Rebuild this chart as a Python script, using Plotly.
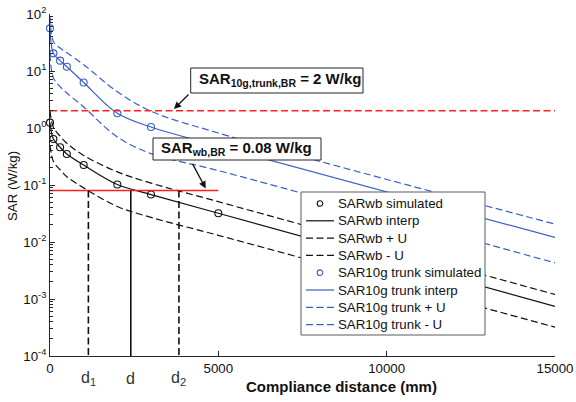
import plotly.graph_objects as go

# ---- data -------------------------------------------------------------
dist_sim = [0, 100, 300, 500, 1000, 2000, 3000, 5000]               # mm
wb_sim = [1.24, 0.64, 0.46, 0.35, 0.224, 0.102, 0.068, 0.032]        # W/kg
trunk_sim = [56, 20.4, 15.2, 11.9, 6.3, 1.81, 1.04, 0.48]            # W/kg

dist_curve = [0, 100, 300, 500, 1000, 2000, 3000, 5000, 15000]
wb_interp = [1.24, 0.64, 0.46, 0.35, 0.224, 0.102, 0.068, 0.032, 7.4e-4]
wb_plus = [2.0, 1.03, 0.72, 0.54, 0.33, 0.17, 0.108, 0.051, 0.0012]
wb_minus = [0.5, 0.26, 0.185, 0.14, 0.089, 0.042, 0.027, 0.0131, 3.2e-4]
trunk_interp = [56, 20.4, 15.2, 11.9, 6.3, 1.81, 1.04, 0.48, 0.012]
trunk_plus = [90, 33, 25.3, 20.9, 12.9, 4.33, 1.97, 0.817, 0.0206]
trunk_minus = [20, 7.6, 5.3, 4.1, 2.34, 0.695, 0.356, 0.179, 0.0043]

sar_wb_br = 0.08          # W/kg
sar_trunk_br = 2.0        # W/kg
wb_br_extent = 5000       # mm
d_names = ["d<sub>1</sub>", "d", "d<sub>2</sub>"]
d_values = [1140, 2400, 3830]   # mm
d_dashed = [True, False, True]

x_ticks = [0, 5000, 10000, 15000]
y_ticks = [1e-4, 1e-3, 1e-2, 1e-1, 1e0, 1e1, 1e2]
y_tick_text = ["10<sup>-4</sup>", "10<sup>-3</sup>", "10<sup>-2</sup>", "10<sup>-1</sup>",
               "10<sup>0</sup>", "10<sup>1</sup>", "10<sup>2</sup>"]
y_minor = [k * 10.0 ** e for e in range(-4, 2) for k in range(2, 10)]

legend_labels = ["SARwb simulated", "SARwb interp", "SARwb + U", "SARwb - U",
                 "SAR10g trunk simulated", "SAR10g trunk interp",
                 "SAR10g trunk + U", "SAR10g trunk - U"]

# ---- styling ------------------------------------------------------------
FONT = "Liberation Sans, Arial, Helvetica, sans-serif"
INK = "#262626"
BLACK = "#111111"
BLUE = "#3b5fc7"
RED = "#ff1f1f"
DASH = "7px,3.5px"

W, H = 576, 402
L, R, T, B = 50, 21, 14, 46
PW, PH = W - L - R, H - T - B


def fx(p):
    """pixel column -> paper x"""
    return (p - L) / PW


def fy(p):
    """pixel row (from top) -> paper y"""
    return (H - B - p) / PH


fig = go.Figure()

curves = [
    (wb_interp, BLACK, "solid"), (wb_plus, BLACK, DASH), (wb_minus, BLACK, DASH),
    (trunk_interp, BLUE, "solid"), (trunk_plus, BLUE, DASH), (trunk_minus, BLUE, DASH),
]
for vals, col, dash in curves:
    fig.add_trace(go.Scatter(
        x=dist_curve, y=vals, mode="lines", showlegend=False, hoverinfo="skip",
        line=dict(color=col, width=1.2, dash=dash, shape="spline", smoothing=1),
    ))

for vals, col in [(wb_sim, BLACK), (trunk_sim, BLUE)]:
    fig.add_trace(go.Scatter(
        x=dist_sim, y=vals, mode="markers", showlegend=False, cliponaxis=False,
        marker=dict(symbol="circle-open", size=7, color=col, line=dict(width=1.1, color=col)),
    ))

# basic restriction levels
fig.add_trace(go.Scatter(
    x=[0, x_ticks[-1]], y=[sar_trunk_br, sar_trunk_br], mode="lines", showlegend=False,
    line=dict(color=RED, width=1.5, dash=DASH), hoverinfo="skip",
))
fig.add_trace(go.Scatter(
    x=[0, wb_br_extent], y=[sar_wb_br, sar_wb_br], mode="lines", showlegend=False,
    line=dict(color=RED, width=1.5), hoverinfo="skip",
))

# compliance distances
for dv, dashed in zip(d_values, d_dashed):
    fig.add_trace(go.Scatter(
        x=[dv, dv], y=[sar_wb_br, y_ticks[0]], mode="lines", showlegend=False,
        line=dict(color=BLACK, width=1.6, dash=DASH if dashed else "solid"), hoverinfo="skip",
    ))

annotations = []
shapes = []

# labelled boxes with arrows
box_specs = [
    ((190.7, 68, 363, 93), "<b>SAR<sub>10g,trunk,BR</sub> = 2 W/kg</b>", 196.5, 79.5),
    ((153, 138, 321, 160), "<b>SAR<sub>wb,BR</sub> = 0.08 W/kg</b>", 159, 148.5),
]
for (x0, y0, x1, y1), txt, tx, ty in box_specs:
    shapes.append(dict(
        type="rect", xref="paper", yref="paper", layer="above",
        x0=fx(x0), x1=fx(x1), y0=fy(y1), y1=fy(y0),
        fillcolor="white", line=dict(color=INK, width=1),
    ))
    annotations.append(dict(
        xref="paper", yref="paper", x=fx(tx), y=fy(ty), xanchor="left", yanchor="middle",
        text=txt, showarrow=False, font=dict(family=FONT, size=15, color=BLACK),
    ))

annotations.append(dict(
    xref="x", yref="y", x=3683, y=0.333, text="", showarrow=True,
    axref="pixel", ayref="pixel", ax=16, ay=-16,
    arrowhead=2, arrowsize=1.1, arrowwidth=1.3, arrowcolor=BLACK,
))
annotations.append(dict(
    xref="x", yref="y", x=4625, y=-1.06, text="", showarrow=True,
    axref="pixel", ayref="pixel", ax=-14, ay=-26,
    arrowhead=2, arrowsize=1.1, arrowwidth=1.3, arrowcolor=BLACK,
))

# distance labels under the axis
for name, dv in zip(d_names, d_values):
    annotations.append(dict(
        xref="x", yref="paper", x=dv, y=fy(379), xanchor="center", yanchor="middle",
        text=name, showarrow=False, font=dict(family=FONT, size=16, color="#333333"),
    ))

# axis titles
annotations.append(dict(
    xref="paper", yref="paper", x=fx(341), y=fy(387), xanchor="center", yanchor="middle",
    text="<b>Compliance distance (mm)</b>", showarrow=False,
    font=dict(family=FONT, size=15, color=BLACK),
))
annotations.append(dict(
    xref="paper", yref="paper", x=fx(12), y=fy(186), xanchor="center", yanchor="middle",
    text="SAR (W/kg)", textangle=-90, showarrow=False,
    font=dict(family=FONT, size=13.3, color=BLACK),
))

# legend panel
lg_left, lg_top, lg_right, lg_bottom = 301, 192, 485, 335
shapes.append(dict(
    type="rect", xref="paper", yref="paper", layer="above",
    x0=fx(lg_left), x1=fx(lg_right), y0=fy(lg_bottom), y1=fy(lg_top),
    fillcolor="white", line=dict(color="#5a5a5a", width=1),
))
legend_styles = [
    ("marker", BLACK, None), ("line", BLACK, "solid"), ("line", BLACK, DASH), ("line", BLACK, DASH),
    ("marker", BLUE, None), ("line", BLUE, "solid"), ("line", BLUE, DASH), ("line", BLUE, DASH),
]
row0, row_step = 203.5, 17.3
for i, (label, (kind, col, dash)) in enumerate(zip(legend_labels, legend_styles)):
    yc = row0 + i * row_step
    if kind == "line":
        shapes.append(dict(
            type="line", xref="paper", yref="paper", layer="above",
            x0=fx(306), x1=fx(334), y0=fy(yc), y1=fy(yc),
            line=dict(color=col, width=1.2, dash=dash),
        ))
    else:
        shapes.append(dict(
            type="circle", xref="paper", yref="paper", layer="above",
            xsizemode="pixel", ysizemode="pixel", xanchor=fx(320), yanchor=fy(yc),
            x0=-2.8, x1=2.8, y0=-2.8, y1=2.8,
            line=dict(color=col, width=1.1), fillcolor="rgba(0,0,0,0)",
        ))
    annotations.append(dict(
        xref="paper", yref="paper", x=fx(336), y=fy(yc), xanchor="left", yanchor="middle",
        text=label, showarrow=False, font=dict(family=FONT, size=13.3, color=BLACK),
    ))

fig.update_layout(
    width=W, height=H,
    margin=dict(l=L, r=R, t=T, b=B, pad=0, autoexpand=False),
    paper_bgcolor="white", plot_bgcolor="white",
    font=dict(family=FONT, size=13.3, color=INK),
    showlegend=False,
    annotations=annotations,
    shapes=shapes,
    xaxis=dict(
        range=[0, 15000], tickmode="array", tickvals=x_ticks,
        ticktext=[str(v) for v in x_ticks], automargin=False,
        ticks="inside", ticklen=5, tickwidth=1, tickcolor=INK,
        showline=True, linecolor=INK, linewidth=1, mirror=False,
        showgrid=False, zeroline=False,
        tickfont=dict(family=FONT, size=13.3, color=BLACK),
    ),
    yaxis=dict(
        type="log", range=[-4, 2], tickmode="array", tickvals=y_ticks, ticktext=y_tick_text,
        automargin=False,
        ticks="inside", ticklen=5, tickwidth=1, tickcolor=INK,
        minor=dict(tickmode="array", tickvals=y_minor, ticks="inside", ticklen=3,
                   tickcolor=INK, showgrid=False),
        showline=True, linecolor=INK, linewidth=1, mirror=False,
        showgrid=False, zeroline=False,
        tickfont=dict(family=FONT, size=13.3, color=BLACK),
    ),
)

fig.write_html("out.html")
